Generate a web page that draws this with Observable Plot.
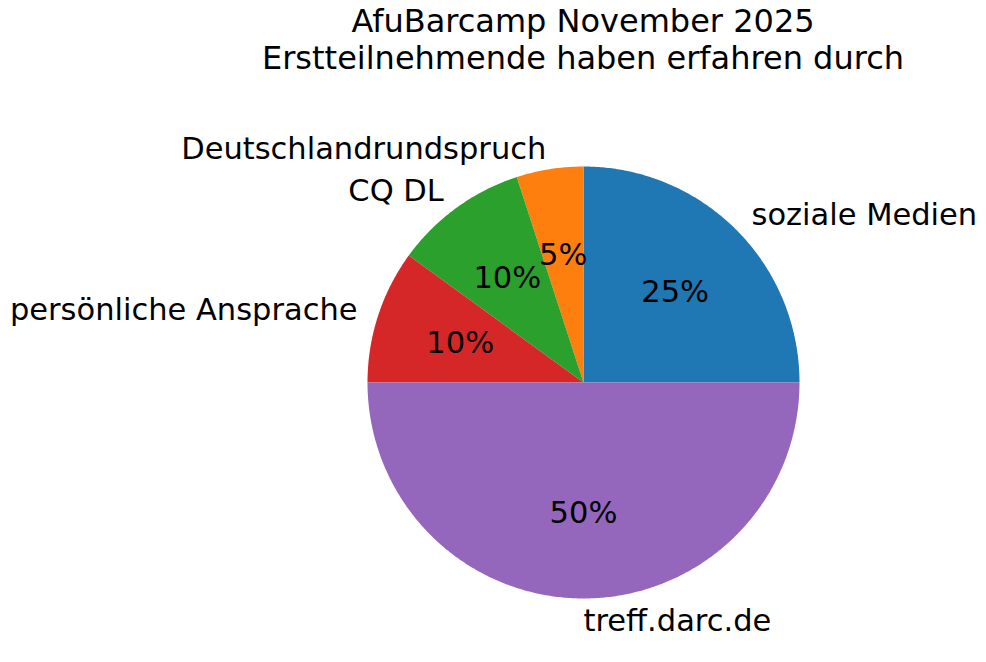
<!DOCTYPE html>
<html>
<head>
<meta charset="utf-8">
<script src="https://cdn.jsdelivr.net/npm/d3@7"></script>
<script src="https://cdn.jsdelivr.net/npm/@observablehq/plot@0.6"></script>
<style>
  html, body { margin: 0; padding: 0; background: #fff; }
  #wrap { width: 986px; height: 662px; overflow: hidden; }
  #title {
    box-sizing: border-box; width: 986px; height: 76px;
    padding-top: 3px; padding-left: 180px;
    text-align: center; font-family: "DejaVu Sans", sans-serif;
    font-size: 32px; line-height: 36.5px; color: #000; white-space: nowrap;
  }
  svg { display: block; }
</style>
</head>
<body>
<div id="wrap">
  <div id="title"></div>
  <div id="chart"></div>
</div>
<script>
const titleLines = ["AfuBarcamp November 2025", "Erstteilnehmende haben erfahren durch"];
const labels = ["soziale Medien", "Deutschlandrundspruch", "CQ DL", "persönliche Ansprache", "treff.darc.de"];
const shares = [25, 5, 10, 10, 50];
const colors = ["#1f77b4", "#ff7f0e", "#2ca02c", "#d62728", "#9467bd"];

document.getElementById("title").innerHTML = titleLines.join("<br>");

const total = d3.sum(shares);
let acc = 0;
const slices = shares.map((v, i) => {
  const a0 = acc / total * 2 * Math.PI;
  acc += v;
  const a1 = acc / total * 2 * Math.PI;
  return {label: labels[i], value: v, a0, a1, mid: (a0 + a1) / 2};
});

// wedge outlines (unit radius), derived from the slice angles
const wedgePts = [];
for (const s of slices) {
  wedgePts.push({label: s.label, x: 0, y: 0});
  const n = Math.max(2, Math.ceil((s.a1 - s.a0) / (Math.PI / 360)));
  for (let k = 0; k <= n; k++) {
    const a = s.a0 + (s.a1 - s.a0) * k / n;
    wedgePts.push({label: s.label, x: Math.cos(a), y: Math.sin(a)});
  }
  wedgePts.push({label: s.label, x: 0, y: 0});
}

const labelPts = slices.map(s => ({
  label: s.label,
  x: 1.1 * Math.cos(s.mid), y: 1.1 * Math.sin(s.mid),
  right: Math.cos(s.mid) < -1e-9
}));
const pctPts = slices.map(s => ({
  text: d3.format(".0f")(s.value / total * 100) + "%",
  x: 0.6 * Math.cos(s.mid), y: 0.6 * Math.sin(s.mid)
}));

const W = 986, H = 586, R = 216, cx = 583, cy = 306;
const font = "DejaVu Sans";
const fs = 30.5;

const chart = Plot.plot({
  width: W, height: H, margin: 0,
  style: {fontFamily: font, background: "#fff"},
  x: {domain: [-cx / R, (W - cx) / R], range: [0, W], axis: null},
  y: {domain: [-(H - cy) / R, cy / R], range: [H, 0], axis: null},
  color: {domain: labels, range: colors},
  marks: [
    Plot.line(wedgePts, {x: "x", y: "y", z: "label", fill: "label", stroke: "none", curve: "linear"}),
    Plot.text(labelPts.filter(d => !d.right), {x: "x", y: "y", text: "label", textAnchor: "start", lineAnchor: "middle", dy: 1, fontSize: fs, fill: "#000"}),
    Plot.text(labelPts.filter(d => d.right), {x: "x", y: "y", text: "label", textAnchor: "end", lineAnchor: "middle", dy: 1, fontSize: fs, fill: "#000"}),
    Plot.text(pctPts, {x: "x", y: "y", text: "text", textAnchor: "middle", lineAnchor: "middle", dy: 1, fontSize: fs, fill: "#000"})
  ]
});
document.getElementById("chart").appendChild(chart);
</script>
</body>
</html>
